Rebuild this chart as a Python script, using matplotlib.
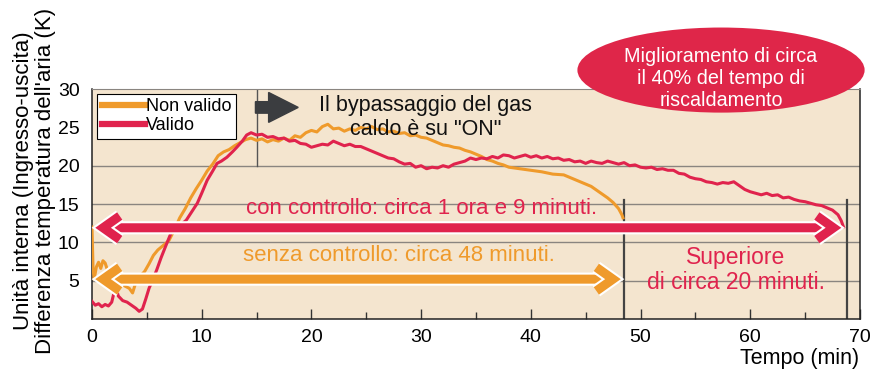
import matplotlib
matplotlib.use("Agg")
import matplotlib.pyplot as plt
import matplotlib.patheffects as pe
from matplotlib.patches import Ellipse, FancyArrow

plt.rcParams['font.family'] = ['Liberation Sans', 'DejaVu Sans']

# Non valido (orange)
x_off = [0, 0.1, 0.2, 0.4, 0.6, 0.8, 1.0, 1.2, 1.5, 1.8, 2.2, 2.6, 3.0, 3.4, 3.7,
         4.0, 4.4, 4.8, 5.2, 5.6, 6.0, 6.5, 7.0, 7.5, 8.0, 8.5, 9.0, 9.5, 10.0,
         10.5, 11.0, 11.5, 12.0, 12.5, 13.0, 13.5, 14.0, 14.5, 15.0, 15.5, 16.0,
         16.5, 17.0, 17.5, 18.0, 18.5, 19.0, 19.5, 20.0, 20.5, 21.0, 21.5, 22.0,
         22.5, 23.0, 23.5, 24.0, 24.5, 25.0, 25.5, 26.0, 26.5, 27.0, 27.5, 28.0,
         28.5, 29.0, 29.5, 30.0, 30.5, 31.0, 31.5, 32.0, 32.5, 33.0, 33.5, 34.0,
         34.5, 35.0, 35.5, 36.0, 36.5, 37.0, 37.5, 38.0, 38.5, 39.0, 39.5, 40.0,
         41.0, 42.0, 43.0, 44.0, 44.5, 45.0, 45.5, 46.0, 46.5, 47.0, 47.5, 48.0,
         48.3, 48.4]
y_off = [12.0, 6.5, 5.2, 6.8, 7.4, 6.6, 7.6, 7.3, 6.0, 5.0, 4.6, 4.9, 4.3, 4.0, 3.4,
         4.8, 5.6, 6.2, 7.2, 8.3, 9.0, 9.6, 10.2, 11.6, 13.2, 14.4, 15.8, 17.0, 18.1,
         19.3, 20.2, 21.3, 21.8, 22.1, 22.6, 23.0, 23.4, 23.6, 23.3, 23.5, 23.1,
         23.4, 23.2, 23.6, 23.3, 23.9, 23.7, 24.3, 24.6, 24.4, 25.1, 25.4, 24.8,
         24.9, 24.5, 24.8, 24.6, 25.0, 24.8, 25.1, 24.7, 24.8, 24.4, 24.5, 24.2,
         24.3, 23.9, 24.0, 23.7, 23.6, 23.3, 23.0, 22.7, 22.6, 22.4, 22.3, 22.0,
         21.8, 21.5, 21.2, 20.8, 20.6, 20.3, 20.1, 19.8, 19.7, 19.6, 19.5, 19.4,
         19.2, 18.9, 18.8, 18.2, 17.9, 17.6, 17.3, 16.8, 16.3, 15.8, 15.2, 14.4,
         13.6, 13.2]

# Valido (red)
x_on = [0, 0.3, 0.6, 0.9, 1.2, 1.5, 1.8, 2.0, 2.2, 2.4, 2.8, 3.2, 3.6, 4.0, 4.3,
        4.6, 4.9, 5.2, 5.5, 5.9, 6.3, 6.8, 7.2, 7.7, 8.2, 8.6, 9.1, 9.6, 10.0,
        10.5, 11.0, 11.4, 11.8, 12.3, 12.8, 13.2, 13.7, 14.1, 14.5, 15.0, 15.5,
        16.0, 16.5, 17.0, 17.5, 18.0, 18.5, 19.0, 19.5, 20.0, 20.5, 21.0, 21.5,
        22.0, 22.5, 23.0, 23.5, 24.0, 24.5, 25.0, 25.5, 26.0, 26.5, 27.0, 27.5,
        28.0, 28.5, 29.0, 29.5, 30.0, 30.5, 31.0, 31.5, 32.0, 32.5, 33.0, 33.5,
        34.0, 34.5, 35.0, 35.5, 36.0, 36.5, 37.0, 37.5, 38.0, 38.5, 39.0, 39.5,
        40.0, 40.5, 41.0, 41.5, 42.0, 42.5, 43.0, 43.5, 44.0, 44.5, 45.0, 45.5,
        46.0, 46.5, 47.0, 47.5, 48.0, 48.5, 49.0, 49.5, 50.0, 50.5, 51.0, 51.5,
        52.0, 52.5, 53.0, 53.5, 54.0, 54.5, 55.0, 55.5, 56.0, 56.5, 57.0, 57.5,
        58.0, 58.5, 59.0, 59.5, 60.0, 60.5, 61.0, 61.5, 62.0, 62.5, 63.0, 63.5,
        64.0, 64.5, 65.0, 65.5, 66.0, 66.5, 67.0, 67.5, 68.0, 68.3, 68.5]
y_on = [2.3, 1.8, 2.0, 1.6, 1.9, 1.7, 2.2, 3.4, 4.0, 3.0, 2.4, 2.2, 1.8, 1.4, 1.0,
        1.3, 2.6, 4.0, 5.0, 6.4, 8.0, 9.8, 11.2, 12.0, 12.4, 12.9, 14.0, 15.1, 16.4,
        18.1, 19.3, 20.3, 20.6, 21.1, 21.8, 22.4, 23.2, 24.0, 24.3, 24.0, 24.1,
        23.7, 23.8, 23.5, 23.6, 23.2, 23.3, 22.9, 22.8, 22.4, 22.6, 22.8, 22.7,
        23.2, 22.9, 22.6, 22.8, 22.5, 22.5, 22.2, 21.9, 21.6, 21.3, 21.0, 20.9,
        20.5, 20.2, 20.3, 19.8, 20.0, 19.6, 19.8, 19.7, 20.0, 19.8, 20.2, 20.4,
        20.6, 21.0, 20.8, 21.0, 20.9, 21.2, 21.0, 21.4, 21.3, 21.0, 21.2, 21.4,
        21.1, 21.3, 21.0, 21.2, 20.9, 21.0, 20.7, 20.8, 20.5, 20.6, 20.3, 20.6,
        20.4, 20.3, 20.6, 20.4, 20.2, 20.4, 20.0, 20.1, 19.8, 19.7, 19.8, 19.5,
        19.6, 19.4, 19.4, 19.0, 18.9, 18.5, 18.3, 18.2, 17.9, 17.8, 17.6, 17.8,
        17.7, 17.9, 17.4, 16.9, 16.6, 16.4, 16.2, 16.4, 16.1, 16.2, 15.8, 15.9,
        15.6, 15.4, 15.3, 15.1, 14.9, 14.8, 14.5, 14.2, 13.6, 12.8, 12.0]

x_ticks = [0, 10, 20, 30, 40, 50, 60, 70]
y_ticks = [5, 10, 15, 20, 25, 30]
end_off = 48.5
end_on = 68.8

ORANGE = '#EF9A2B'
RED = '#E0234D'
BG = '#F4E5CF'

fig = plt.figure(figsize=(8.81, 3.85), dpi=100)
ax = fig.add_axes([0.1044, 0.1714, 0.8717, 0.5974])
ax.set_facecolor(BG)
ax.set_xlim(0, 70)
ax.set_ylim(0, 30)

for g in [5, 10, 15, 20]:
    ax.axhline(g, color='#8a8580', lw=1.0, zorder=1)
ax.plot([15, 15], [20, 30], color='#555555', lw=1.0, zorder=1)
ax.plot([end_off, end_off], [0, 15.5], color='#444444', lw=1.6, zorder=1)
ax.plot([end_on, end_on], [0, 15.5], color='#444444', lw=1.6, zorder=1)

ax.plot(x_off, y_off, color=ORANGE, lw=2.2, label='Non valido', zorder=3)
ax.plot(x_on, y_on, color=RED, lw=2.2, label='Valido', zorder=3)

leg = ax.legend(loc='upper left', bbox_to_anchor=(0.002, 0.995), fontsize=13,
                frameon=True, fancybox=False, edgecolor='black', framealpha=1,
                handlelength=2.4, handletextpad=0.05, borderpad=0.25,
                labelspacing=0.1, borderaxespad=0.2)
for h in leg.get_lines():
    h.set_linewidth(4.5)
leg.get_frame().set_linewidth(0.8)

# arrows
for (x0, x1, yv, col) in [(0.3, 68.3, 11.9, RED), (0.3, 48.2, 5.2, ORANGE)]:
    ax.annotate('', xy=(x1, yv), xytext=(x0, yv),
                arrowprops=dict(arrowstyle='<->,head_length=1.2,head_width=0.85',
                                color=col, lw=6.5, shrinkA=0, shrinkB=0,
                                joinstyle='miter', capstyle='butt',
                                path_effects=[pe.withStroke(linewidth=9.5, foreground='white')]),
                zorder=5)

ax.text(30.0, 14.4, 'con controllo: circa 1 ora e 9 minuti.', color=RED,
        fontsize=16, ha='center', va='center', zorder=6)
ax.text(28.0, 8.3, 'senza controllo: circa 48 minuti.', color=ORANGE,
        fontsize=16, ha='center', va='center', zorder=6)
ax.text(58.7, 6.4, 'Superiore\ndi circa 20 minuti.', color=RED,
        fontsize=16.5, ha='center', va='center', linespacing=1.1, zorder=6)

ax.add_patch(FancyArrow(14.9, 27.6, 3.9, 0, width=1.5, head_width=3.9,
                        head_length=2.7, length_includes_head=True,
                        color='#3b3d40', zorder=6))
ax.text(30.4, 26.3, 'Il bypassaggio del gas\ncaldo è su "ON"', color='#111111',
        fontsize=15.5, ha='center', va='center', linespacing=1.15, zorder=6)

ax.set_xticks(x_ticks)
ax.set_xticks([5, 15, 25, 35, 45, 55, 65], minor=True)
ax.set_yticks(y_ticks)
ax.tick_params(axis='x', which='major', direction='in', length=7, width=1,
               labelsize=14, pad=7, color='#333333')
ax.tick_params(axis='x', which='minor', direction='in', length=5, width=1,
               color='#333333')
ax.tick_params(axis='y', length=0, labelsize=14, pad=9)

for s in ['left', 'bottom', 'right']:
    ax.spines[s].set_color('#222222')
    ax.spines[s].set_linewidth(1.1)
ax.spines['top'].set_color('#8a8580')

fig.text(0.975, 0.07, 'Tempo (min)', fontsize=15.5, ha='right', va='center')
fig.text(0.039, 0.53, "Unità interna (Ingresso-uscita)\nDifferenza temperatura dell'aria (K)",
         rotation=90, fontsize=16, ha='center', va='center', multialignment='center',
         linespacing=1.05)

ell = Ellipse((0.8184, 0.818), 0.326, 0.221, transform=fig.transFigure,
              facecolor='#DF2649', edgecolor='none', zorder=10)
fig.patches.append(ell)
fig.text(0.8184, 0.797, 'Miglioramento di circa\nil 40% del tempo di\nriscaldamento',
         color='white', fontsize=14.2, ha='center', va='center', linespacing=1.2,
         zorder=11)

fig.savefig('out.png', dpi=100, facecolor='white')
